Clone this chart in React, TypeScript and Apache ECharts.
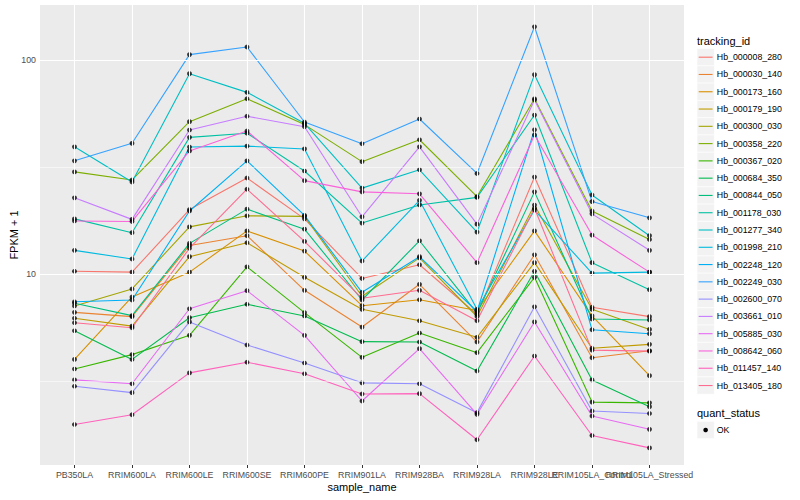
import React, { useEffect, useRef } from "react";
import * as echarts from "echarts";

// ---------- data ----------
const samples = [
  "PB350LA", "RRIM600LA", "RRIM600LE", "RRIM600SE", "RRIM600PE", "RRIM901LA",
  "RRIM928BA", "RRIM928LA", "RRIM928LE", "RRIM105LA_Control", "RRIM105LA_Stressed",
];

const trackingIds = [
  "Hb_000008_280", "Hb_000030_140", "Hb_000173_160", "Hb_000179_190", "Hb_000300_030",
  "Hb_000358_220", "Hb_000367_020", "Hb_000684_350", "Hb_000844_050", "Hb_001178_030",
  "Hb_001277_340", "Hb_001998_210", "Hb_002248_120", "Hb_002249_030", "Hb_002600_070",
  "Hb_003661_010", "Hb_005885_030", "Hb_008642_060", "Hb_011457_140", "Hb_013405_180",
];

const hueColors = [
  "#F8766D", "#EA8331", "#D89000", "#C09B00", "#A3A500", "#7CAE00", "#39B600", "#00BB4E",
  "#00BF7D", "#00C1A3", "#00BFC4", "#00BAE0", "#00B0F6", "#35A2FF", "#9590FF", "#C77CFF",
  "#E76BF3", "#FA62DB", "#FF62BC", "#FF6C91",
];

// FPKM + 1 per sample (same order as samples)
const hb000008_280 = [10.3, 10.2, 20, 28.1, 18.1, 9.53, 11.05, 6.47, 28.4, 6.99, 6.32];
const hb000030_140 = [6.62, 6.32, 13.6, 15.1, 8.39, 5.65, 8.95, 4.81, 12.3, 4.06, 4.38];
const hb000173_160 = [3.99, 7.81, 10.2, 15.9, 12.8, 7.11, 7.58, 6.75, 15.9, 6.37, 3.35];
const hb000179_190 = [6.21, 5.71, 12.05, 14, 9.65, 6.84, 6.05, 5.06, 11.3, 4.5, 4.69];
const hb000300_030 = [7.09, 8.51, 16.6, 18.7, 18.6, 7.87, 11.9, 6.33, 21, 6.84, 5.51];
const hb000358_220 = [30, 27.5, 51.5, 65.9, 49.9, 33.5, 42.4, 23, 65.9, 19.7, 14.5];
const hb000367_020 = [3.6, 4.2, 5.17, 10.8, 6.6, 4.08, 5.3, 4.29, 9.65, 2.52, 2.5];
const hb000684_350 = [5.43, 3.99, 6.25, 7.22, 6.37, 4.83, 4.81, 3.52, 10.3, 3.2, 2.4];
const hb000844_050 = [7.3, 6.39, 13.9, 20.1, 16.2, 7.56, 14.3, 6.57, 24.2, 6.16, 6.1];
const hb001178_030 = [18.1, 15.6, 43.5, 45.5, 30.3, 17.3, 21, 22.8, 55.3, 11.3, 8.45];
const hb001277_340 = [39.3, 26.9, 86.3, 70.6, 50.6, 25.2, 30.7, 15.7, 85.4, 23.4, 15.1];
const hb001998_210 = [12.9, 11.75, 39.2, 39.6, 38.4, 11.5, 22.1, 6.84, 19.9, 10.1, 10.2];
const hb002248_120 = [7.42, 7.56, 19.7, 33.8, 18.8, 8.21, 12.05, 6.68, 47.2, 5.49, 5.26];
const hb002249_030 = [33.8, 40.8, 106, 115, 51.3, 40.6, 53, 29.5, 143, 21.8, 18.3];
const hb002600_070 = [2.99, 2.79, 5.97, 4.66, 3.84, 3.1, 3.07, 2.25, 7.03, 2.29, 2.23];
const hb003661_010 = [22.7, 18, 47.1, 54.6, 48.8, 18.5, 39.3, 17.1, 65, 19.1, 12.9];
const hb005885_030 = [3.2, 3.07, 6.88, 8.36, 5.17, 2.55, 4.48, 2.21, 5.97, 2.17, 1.88];
const hb008642_060 = [17.7, 17.6, 37.6, 46.6, 27.3, 24.2, 23.7, 11.3, 44.6, 15.2, 10.2];
const hb011457_140 = [1.98, 2.2, 3.45, 3.87, 3.42, 2.75, 2.76, 1.68, 4.14, 1.76, 1.54];
const hb013405_180 = [5.92, 5.61, 13.2, 24.9, 14.2, 7.7, 8.39, 6.05, 20.3, 4.41, 4.36];

const seriesValues = [
  hb000008_280, hb000030_140, hb000173_160, hb000179_190, hb000300_030,
  hb000358_220, hb000367_020, hb000684_350, hb000844_050, hb001178_030,
  hb001277_340, hb001998_210, hb002248_120, hb002249_030, hb002600_070,
  hb003661_010, hb005885_030, hb008642_060, hb011457_140, hb013405_180,
];

const yTickLabels = [10, 100];
const yMinorBreaks = [Math.sqrt(10), Math.sqrt(1000)];
const quantStatus = ["OK"];

// ---------- layout ----------
const FONT = "'Liberation Sans', Arial, Helvetica, sans-serif";
const Y_MIN = 0.1075; // log10 of lower panel limit
const Y_MAX = 2.257; // log10 of upper panel limit
const X_MIN = -0.6;
const X_MAX = samples.length - 1 + 0.6;

function buildOption() {
  const major = { color: "#FFFFFF", width: 1.1, type: "solid" as const };
  const minor = { color: "#FFFFFF", width: 0.55, type: "solid" as const };

  const gridSeries = {
    type: "line",
    data: [],
    silent: true,
    z: 1,
    markLine: {
      silent: true,
      symbol: ["none", "none"],
      label: { show: false },
      emphasis: { disabled: true },
      animation: false,
      data: [
        ...yMinorBreaks.map((v) => ({ yAxis: Math.log10(v), lineStyle: minor })),
        ...yTickLabels.map((v) => ({ yAxis: Math.log10(v), lineStyle: major })),
        ...samples.map((_, i) => ({ xAxis: i, lineStyle: major })),
      ],
    },
  };

  const lineSeries = trackingIds.map((id, k) => ({
    name: id,
    type: "line",
    z: 2,
    silent: true,
    showSymbol: false,
    symbol: "none",
    lineStyle: { color: hueColors[k], width: 1.1 },
    itemStyle: { color: hueColors[k] },
    data: seriesValues[k].map((v, i) => [i, Math.log10(v)]),
  }));

  const pointData: number[][] = [];
  seriesValues.forEach((vals) => vals.forEach((v, i) => pointData.push([i, Math.log10(v)])));
  const pointSeries = {
    name: "OK",
    type: "scatter",
    z: 3,
    silent: true,
    symbol: "circle",
    symbolSize: 4.8,
    itemStyle: { color: "#000000" },
    data: pointData,
  };

  // legend drawn as ggplot-like keys
  const g: any[] = [];
  const keyX = 697;
  const keySize = 17.28;
  const firstY = 57.2;
  g.push({
    type: "text", x: keyX, y: 40.7,
    style: { text: "tracking_id", fontSize: 11, fill: "#000", fontFamily: FONT, verticalAlign: "middle" },
  });
  trackingIds.forEach((id, i) => {
    const cy = firstY + i * keySize;
    g.push({
      type: "rect",
      shape: { x: keyX, y: cy - keySize / 2, width: keySize, height: keySize },
      style: { fill: "#F2F2F2", stroke: "#FFFFFF", lineWidth: 0.6 },
    });
    g.push({
      type: "line",
      shape: { x1: keyX + 1.7, y1: cy, x2: keyX + keySize - 1.7, y2: cy },
      style: { stroke: hueColors[i], lineWidth: 1.1 },
    });
    g.push({
      type: "text", x: keyX + keySize + 2.5, y: cy,
      style: { text: id, fontSize: 8.8, fill: "#000", fontFamily: FONT, verticalAlign: "middle" },
    });
  });
  g.push({
    type: "text", x: keyX, y: 413,
    style: { text: "quant_status", fontSize: 11, fill: "#000", fontFamily: FONT, verticalAlign: "middle" },
  });
  quantStatus.forEach((q, i) => {
    const cy = 430 + i * keySize;
    g.push({
      type: "rect",
      shape: { x: keyX, y: cy - keySize / 2, width: keySize, height: keySize },
      style: { fill: "#F2F2F2", stroke: "#FFFFFF", lineWidth: 0.6 },
    });
    g.push({
      type: "circle",
      shape: { cx: keyX + keySize / 2, cy, r: 2.3 },
      style: { fill: "#000" },
    });
    g.push({
      type: "text", x: keyX + keySize + 2.5, y: cy,
      style: { text: q, fontSize: 8.8, fill: "#000", fontFamily: FONT, verticalAlign: "middle" },
    });
  });

  const allIdx = samples.map((_, i) => i);
  const evenIdx = allIdx.filter((i) => i % 2 === 0);
  const oddIdx = allIdx.filter((i) => i % 2 === 1);

  const labelBase = {
    show: true, fontSize: 8.8, color: "#4D4D4D", margin: 5, fontFamily: FONT,
    formatter: (v: number) => samples[Math.round(v)] ?? "",
    hideOverlap: false,
    showMinLabel: true,
    showMaxLabel: true,
  };

  return {
    animation: false,
    backgroundColor: "#FFFFFF",
    textStyle: { fontFamily: FONT },
    grid: {
      left: 40, right: 116, top: 5, bottom: 35,
      containLabel: false,
      outerBoundsMode: "none",
      show: true, backgroundColor: "#EBEBEB", borderWidth: 0,
    },
    xAxis: [
      {
        type: "value",
        position: "bottom",
        min: X_MIN,
        max: X_MAX,
        name: "sample_name",
        nameLocation: "middle",
        nameGap: 16,
        nameMoveOverlap: false,
        nameTextStyle: { fontSize: 11, color: "#000", fontFamily: FONT },
        axisLine: { show: false },
        splitLine: { show: false },
        axisTick: {
          show: true, length: 3, lineStyle: { color: "#333333", width: 1 },
          customValues: allIdx,
        },
        axisLabel: { ...labelBase, customValues: evenIdx },
      },
      {
        type: "value",
        position: "bottom",
        offset: 0,
        min: X_MIN,
        max: X_MAX,
        axisLine: { show: false },
        splitLine: { show: false },
        axisTick: { show: false },
        axisLabel: { ...labelBase, customValues: oddIdx },
      },
    ],
    yAxis: {
      type: "value",
      min: Y_MIN,
      max: Y_MAX,
      name: "FPKM + 1",
      nameLocation: "middle",
      nameGap: 21,
      nameMoveOverlap: false,
      nameRotate: 90,
      nameTextStyle: { fontSize: 11, color: "#000", fontFamily: FONT },
      axisLine: { show: false },
      splitLine: { show: false },
      axisTick: {
        show: true, length: 3, lineStyle: { color: "#333333", width: 1 },
        customValues: yTickLabels.map((v) => Math.log10(v)),
      },
      axisLabel: {
        show: true, fontSize: 8.8, color: "#4D4D4D", margin: 4, fontFamily: FONT,
        customValues: yTickLabels.map((v) => Math.log10(v)),
        formatter: (v: number) => String(Math.round(Math.pow(10, v))),
        showMinLabel: true,
        showMaxLabel: true,
      },
    },
    graphic: g,
    series: [gridSeries, ...lineSeries, pointSeries],
  };
}

export default function App() {
  const ref = useRef<HTMLDivElement>(null);
  useEffect(() => {
    if (!ref.current) return;
    const chart = echarts.init(ref.current, undefined, { renderer: "svg" });
    chart.setOption(buildOption() as any);
    return () => chart.dispose();
  }, []);
  return (
    <div
      ref={ref}
      style={{ position: "fixed", left: 0, top: 0, width: 800, height: 500, background: "#fff" }}
    />
  );
}
